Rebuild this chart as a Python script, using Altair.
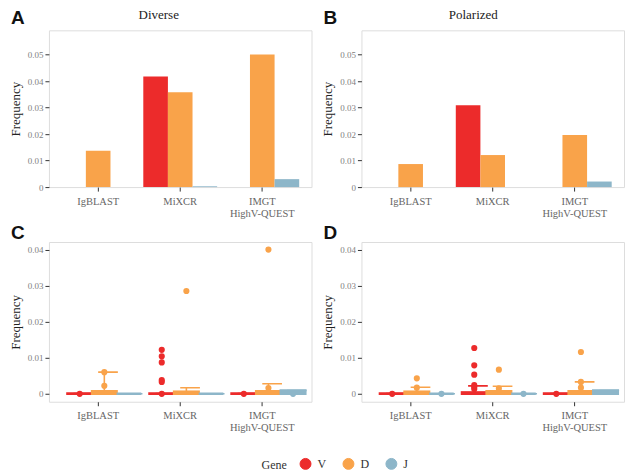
import altair as alt
import pandas as pd

tools = ["IgBLAST", "MiXCR", "IMGT HighV-QUEST"]
genes = ["V", "D", "J"]
gene_colors = ["#EC2B2B", "#F9A34A", "#8DB6C9"]

# Top panels: frequency per tool (order of tools above)
diverse_V = [0.0, 0.0418, 0.0]
diverse_D = [0.0137, 0.0358, 0.0501]
diverse_J = [0.0, 0.0003, 0.0030]
polar_V = [0.0, 0.0309, 0.0]
polar_D = [0.0087, 0.0121, 0.0197]
polar_J = [0.0, 0.0, 0.0021]

# Bottom panels: box summaries per (tool, gene) in order V, D, J for each tool
box_tool = [t for t in tools for g in genes]
box_gene = genes * 3
c_q1 = [0.0] * 9
c_q3 = [0.0001, 0.0007, 0.0, 0.0001, 0.0006, 0.0, 0.0001, 0.0007, 0.0009]
c_hi = [0.0001, 0.0060, 0.0, 0.0001, 0.0017, 0.0, 0.0001, 0.0028, 0.0009]
d_q1 = [0.0] * 9
d_q3 = [0.0001, 0.0006, 0.0, 0.0004, 0.0007, 0.0, 0.0001, 0.0007, 0.0009]
d_hi = [0.0001, 0.0018, 0.0, 0.0022, 0.0021, 0.0, 0.0001, 0.0033, 0.0009]

# Bottom panels: individual points
c_pt_tool = ["IgBLAST", "IgBLAST", "IgBLAST",
             "MiXCR", "MiXCR", "MiXCR", "MiXCR", "MiXCR", "MiXCR", "MiXCR",
             "IMGT HighV-QUEST", "IMGT HighV-QUEST", "IMGT HighV-QUEST", "IMGT HighV-QUEST"]
c_pt_gene = ["V", "D", "D",
             "V", "V", "V", "V", "V", "V", "D",
             "V", "D", "D", "J"]
c_pt_val = [0.0, 0.0022, 0.0060,
            0.0, 0.0033, 0.0038, 0.0087, 0.0104, 0.0122, 0.0285,
            0.0, 0.0016, 0.0400, 0.0]

d_pt_tool = ["IgBLAST", "IgBLAST", "IgBLAST", "IgBLAST",
             "MiXCR", "MiXCR", "MiXCR", "MiXCR", "MiXCR", "MiXCR", "MiXCR", "MiXCR", "MiXCR",
             "IMGT HighV-QUEST", "IMGT HighV-QUEST", "IMGT HighV-QUEST", "IMGT HighV-QUEST"]
d_pt_gene = ["V", "D", "D", "J",
             "V", "V", "V", "V", "V", "V", "D", "D", "J",
             "V", "D", "D", "D"]
d_pt_val = [0.0, 0.0017, 0.0043, 0.0,
            0.0013, 0.0019, 0.0024, 0.0053, 0.0079, 0.0127, 0.0015, 0.0067, 0.0,
            0.0, 0.0017, 0.0033, 0.0116]

panel_letters = ["A", "B", "C", "D"]
panel_titles = ["Diverse", "Polarized"]

SERIF = "Liberation Serif"
W, H_TOP, H_BOT = 263, 157, 160

color_scale = alt.Scale(domain=genes, range=gene_colors)
legend = alt.Legend(
    title="Gene", orient="none", legendX=213, legendY=428, direction="horizontal",
    titleOrient="left", symbolType="circle", symbolSize=120,
    symbolStrokeColor="#444", symbolStrokeWidth=1, symbolOpacity=1,
    titleFont=SERIF, titleFontSize=12, titleFontWeight="normal", titleColor="#333",
    labelFont=SERIF, labelFontSize=12, labelColor="#333", columnPadding=14,
    titlePadding=12, labelOffset=6,
)
xlabel = "datum.label == 'IMGT HighV-QUEST' ? ['IMGT', 'HighV-QUEST'] : datum.label"


def xaxis():
    return alt.Axis(title=None, labelAngle=0, labelExpr=xlabel, labelFont=SERIF,
                    labelFontSize=10.5, labelColor="#666", tickColor="#333",
                    tickSize=4, labelPadding=5, domain=False, grid=False,
                    labelLineHeight=12)


def yaxis(vals):
    return alt.Axis(title="Frequency", values=vals, format="~g", labelFont=SERIF,
                    labelFontSize=9, labelColor="#808080", tickColor="#333", tickSize=4,
                    labelPadding=2, domain=False, grid=False, titleFont=SERIF,
                    titleFontSize=13, titleFontWeight="normal", titleColor="#222",
                    titlePadding=5)


def letter(txt, dy):
    return alt.Chart(pd.DataFrame({"t": [txt]})).mark_text(
        font="Liberation Sans", fontWeight="bold", fontSize=19, align="left",
        baseline="alphabetic", color="#111"
    ).encode(text="t:N", x=alt.value(-38), y=alt.value(dy))


def title_text(txt, cx):
    return alt.Chart(pd.DataFrame({"t": [txt]})).mark_text(
        font=SERIF, fontSize=13, align="center", baseline="alphabetic", color="#222"
    ).encode(text="t:N", x=alt.value(cx), y=alt.value(-11))


def bar_panel(vV, vD, vJ, letter_txt, title_txt, cx):
    df = pd.DataFrame({
        "tool": tools * 3,
        "gene": ["V"] * 3 + ["D"] * 3 + ["J"] * 3,
        "value": vV + vD + vJ,
    })
    bars = alt.Chart(df).mark_bar().encode(
        x=alt.X("tool:N", sort=tools, axis=xaxis(),
                scale=alt.Scale(domain=tools, paddingInner=0.1, paddingOuter=0.15)),
        xOffset=alt.XOffset("gene:N", sort=genes,
                            scale=alt.Scale(domain=genes, paddingInner=0, paddingOuter=0)),
        y=alt.Y("value:Q", axis=yaxis([0, 0.01, 0.02, 0.03, 0.04, 0.05]),
                scale=alt.Scale(domain=[0, 0.0592], nice=False, zero=False)),
        color=alt.Color("gene:N", scale=color_scale, sort=genes, legend=legend),
    )
    return alt.layer(bars, letter(letter_txt, -6), title_text(title_txt, cx)).properties(
        width=W, height=H_TOP)


def box_panel(q1, q3, hi, pt_tool, pt_gene, pt_val, letter_txt):
    bdf = pd.DataFrame({"tool": box_tool, "gene": box_gene, "q1": q1, "q3": q3, "hi": hi})
    pdf = pd.DataFrame({"tool": pt_tool, "gene": pt_gene, "value": pt_val})
    x = alt.X("tool:N", sort=tools, axis=xaxis(),
              scale=alt.Scale(domain=tools, paddingInner=0.25, paddingOuter=0.225))
    xo = alt.XOffset("gene:N", sort=genes,
                     scale=alt.Scale(domain=genes, paddingInner=0.12, paddingOuter=0))
    yscale = alt.Scale(domain=[-0.0022, 0.0421], nice=False, zero=False)
    yax = yaxis([0, 0.01, 0.02, 0.03, 0.04])
    col = alt.Color("gene:N", scale=color_scale, sort=genes, legend=legend)
    strk = alt.Stroke("gene:N", scale=color_scale, sort=genes, legend=None)
    whisk = alt.Chart(bdf).mark_rule(strokeWidth=1.6).encode(
        x=x, xOffset=xo, y=alt.Y("q3:Q", scale=yscale, axis=yax), y2="hi:Q", color=col)
    cap = alt.Chart(bdf).mark_bar(strokeWidth=1.6, width=alt.RelativeBandSize(0.8)).encode(
        x=x, xOffset=xo, y=alt.Y("hi:Q", scale=yscale, axis=yax), y2="hi:Q",
        color=col, stroke=strk)
    box = alt.Chart(bdf).mark_bar(strokeWidth=2.4).encode(
        x=x, xOffset=xo, y=alt.Y("q1:Q", scale=yscale, axis=yax), y2="q3:Q",
        color=col, stroke=strk)
    pts = alt.Chart(pdf).mark_circle(size=38, opacity=1).encode(
        x=x, xOffset=xo, y=alt.Y("value:Q", scale=yscale, axis=yax), color=col)
    return alt.layer(whisk, cap, box, pts, letter(letter_txt, -3)).properties(
        width=W, height=H_BOT)


pA = bar_panel(diverse_V, diverse_D, diverse_J, panel_letters[0], panel_titles[0], 110)
pB = bar_panel(polar_V, polar_D, polar_J, panel_letters[1], panel_titles[1], 112)
pC = box_panel(c_q1, c_q3, c_hi, c_pt_tool, c_pt_gene, c_pt_val, panel_letters[2])
pD = box_panel(d_q1, d_q3, d_hi, d_pt_tool, d_pt_gene, d_pt_val, panel_letters[3])

chart = alt.concat(
    pA, pB, pC, pD, columns=2, bounds="flush", align="each",
    spacing=alt.RowColnumber(row=55, column=50),
).resolve_scale(
    color="shared", stroke="shared"
).properties(padding={"left": 0, "top": 0, "right": 0, "bottom": 0}).configure_view(
    stroke="#a8a8a8", strokeWidth=1
).configure(background="white")

chart.save("out.html", embed_options={"renderer": "svg", "actions": False})
